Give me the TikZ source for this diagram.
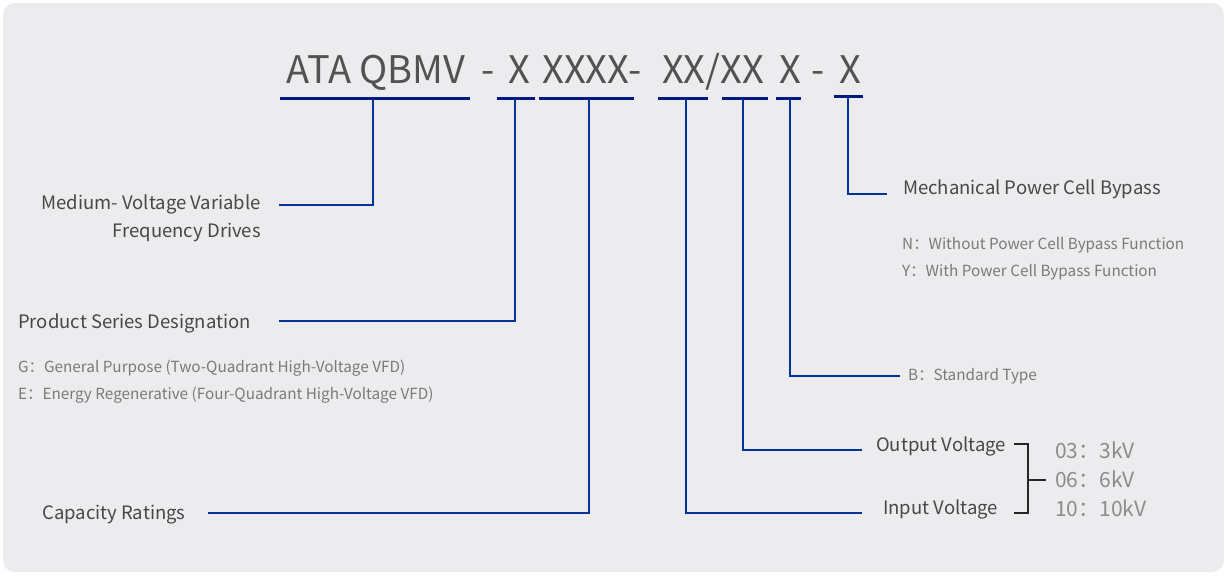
\documentclass[tikz,border=0pt]{standalone}
\usepackage{fontspec}
\setmainfont{Noto Sans CJK SC}
\begin{document}
\begin{tikzpicture}[x=1pt,y=-1pt,
  ul/.style={draw=blue!45!black!90!cyan, line width=3pt},
  ln/.style={draw=blue!50!black!80!cyan, line width=1.1pt},
  tt/.style={anchor=base, inner sep=0pt, text=black!68, font=\fontsize{38}{44}\selectfont},
  lab/.style={text=black!72, font=\fontsize{18.5}{28}\selectfont, inner sep=0pt},
  desc/.style={text=black!52, font=\fontsize{15.3}{19}\selectfont, inner sep=0pt, anchor=west},
  val/.style={text=black!45, font=\fontsize{21}{26}\selectfont, inner sep=0pt, anchor=west}]
\useasboundingbox (0,0) rectangle (1228,576);
\fill[white] (0,0) rectangle (1228,576);
\fill[rounded corners=12pt, fill={rgb,255:red,236;green,236;blue,239}] (3,3) rectangle (1224,572);
\node[tt] (t1) at (376,83) {ATA QBMV};
\node[tt] (t2) at (488,83) {-};
\node[tt] (t3) at (519,83) {X};
\node[tt] (t4) at (592,83) {XXXX-};
\node[tt] (t5) at (713,83) {XX/XX};
\node[tt] (t6) at (790,83) {X};
\node[tt] (t7) at (818,83) {-};
\node[tt] (t8) at (850,83) {X};
% underlines
\draw[ul] (280,98) -- (470,98);
\draw[ul] (497,98) -- (535,98);
\draw[ul] (539,98) -- (634,98);
\draw[ul] (658,98) -- (708,98);
\draw[ul] (722,98) -- (768,98);
\draw[ul] (776,98) -- (801,98);
\draw[ul] (834,96) -- (863,96);
% nodes
\node[lab, align=right, anchor=east] (mv) at (261,218) {Medium- Voltage Variable\\Frequency Drives};
\node[lab, anchor=west] (ps) at (18,323) {Product Series Designation};
\node[lab, anchor=west] (cr) at (42,515) {Capacity Ratings};
\node[lab, anchor=west] (mp) at (903,189) {Mechanical Power Cell Bypass};
\node[lab, anchor=west] (ov) at (876,446) {Output Voltage};
\node[lab, anchor=west] (iv) at (883,509) {Input Voltage};
\node[desc] (b) at (908,376) {B：Standard Type};
\node[desc] (g) at (18,368) {G：General Purpose (Two-Quadrant High-Voltage VFD)};
\node[desc] (e) at (18,395) {E：Energy Regenerative (Four-Quadrant High-Voltage VFD)};
\node[desc] (n) at (902,245) {N：Without Power Cell Bypass Function};
\node[desc] (y) at (902,272) {Y：With Power Cell Bypass Function};
\node[val] (v1) at (1055,450) {03：3kV};
\node[val] (v2) at (1055,479) {06：6kV};
\node[val] (v3) at (1055,508) {10：10kV};
% connectors
\coordinate (c1) at (279,205);
\draw[ln] (373,99) |- (c1);
\coordinate (c2) at (279,321);
\draw[ln] (515,99) |- (c2);
\coordinate (c3) at (208,513);
\draw[ln] (589,99) |- (c3);
\coordinate (c4) at (862,513);
\draw[ln] (686,99) |- (c4);
\coordinate (c5) at (862,450);
\draw[ln] (743,99) |- (c5);
\coordinate (c6) at (900,376);
\draw[ln] (790,99) |- (c6);
\coordinate (c7) at (887,194);
\draw[ln] (848,97) |- (c7);
% bracket
\draw[black!85, line width=1.6pt] (1014,444) -- (1028,444) -- (1028,513) -- (1014,513);
\draw[black!85, line width=1.6pt] (1028,480) -- (1046,480);
\end{tikzpicture}
\end{document}
